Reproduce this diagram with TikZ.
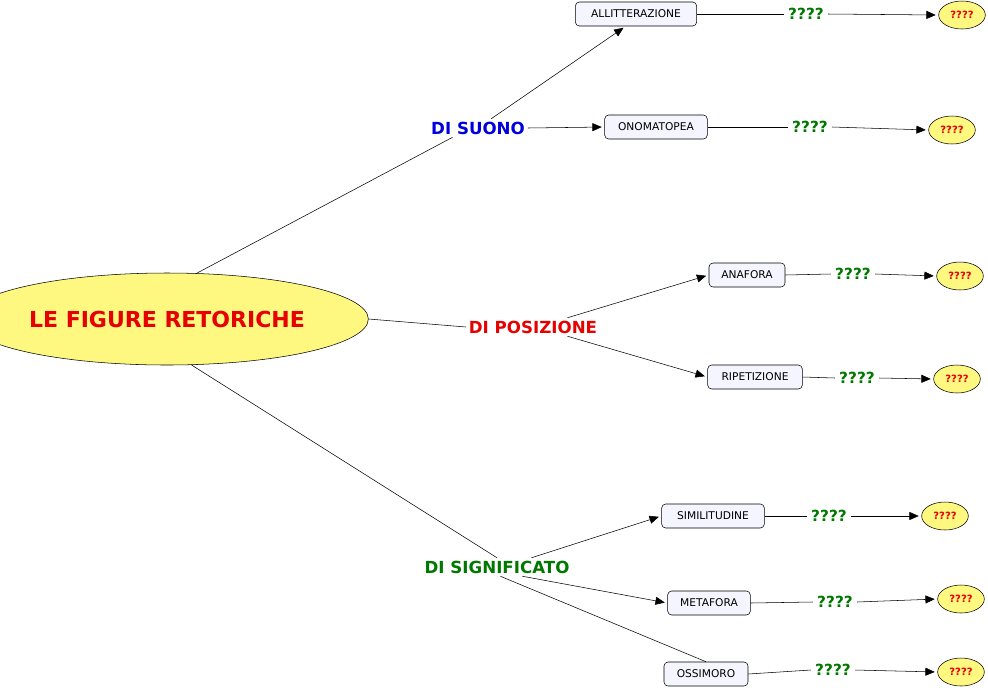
\documentclass[tikz,border=0pt]{standalone}
\usepackage{fontspec}
\setmainfont{DejaVu Sans}
\usetikzlibrary{arrows.meta,shapes.geometric}
\colorlet{ConceptFill}{yellow!50}
\colorlet{BoxFill}{blue!4}
\definecolor{LinkGreen}{RGB}{0,120,0}
\definecolor{LinkBlue}{RGB}{0,0,220}
\definecolor{LinkRed}{RGB}{230,0,0}
\tikzset{
  concept/.style={ellipse, draw, fill=ConceptFill, inner sep=0pt, font=\bfseries\fontsize{7.5}{9}\selectfont, text=LinkRed},
  term/.style={rounded corners=3pt, draw, fill=BoxFill, inner sep=0pt, minimum height=18pt, font=\fontsize{8}{9}\selectfont},
  link/.style={font=\bfseries\fontsize{12.5}{14}\selectfont, inner sep=2pt},
  ask/.style={font=\bfseries\fontsize{11.5}{13}\selectfont, text=LinkGreen, inner sep=3pt},
  line/.style={draw, thin},
  arrow/.style={draw, thin, -{Triangle[length=7pt,width=6pt]}, shorten >=2pt}
}
\begin{document}
\begin{tikzpicture}[x=0.75pt, y=-0.75pt]

  \useasboundingbox (0,0) rectangle (988,690);

  % concetto principale
  \node[ellipse, draw, fill=ConceptFill, minimum width=248pt, minimum height=69pt,
        font=\bfseries\fontsize{16.5}{18}\selectfont, text=LinkRed] (main) at (167,319) {LE FIGURE RETORICHE};

  % parole-legame
  \node[link, text=LinkBlue]  (suono)  at (478,128) {DI SUONO};
  \node[link, text=LinkRed]   (posiz)  at (533,327) {DI POSIZIONE};
  \node[link, text=LinkGreen] (signif) at (497,567) {DI SIGNIFICATO};

  % figure
  \node[term, minimum width=91pt] (Allit)  at (636,14)  {ALLITTERAZIONE};
  \node[term, minimum width=77pt] (Onom)   at (656,127) {ONOMATOPEA};
  \node[term, minimum width=57pt] (Anaf)   at (747,275) {ANAFORA};
  \node[term, minimum width=71pt] (Ripet)  at (755,377) {RIPETIZIONE};
  \node[term, minimum width=77pt] (Simil)  at (713,516) {SIMILITUDINE};
  \node[term, minimum width=62pt] (Metaf)  at (709,603) {METAFORA};
  \node[term, minimum width=63pt] (Ossim)  at (706,674) {OSSIMORO};

  % domande
  \node[ask] (qAllit) at (806,14)  {????};
  \node[ask] (qOnom)  at (810,127) {????};
  \node[ask] (qAnaf)  at (853,274) {????};
  \node[ask] (qRipet) at (857,378) {????};
  \node[ask] (qSimil) at (829,516) {????};
  \node[ask] (qMetaf) at (835,602) {????};
  \node[ask] (qOssim) at (833,670) {????};

  % risposte
  \node[concept, minimum width=35pt, minimum height=21pt] (aAllit) at (962,15)  {????};
  \node[concept, minimum width=35pt, minimum height=21pt] (aOnom)  at (952,130) {????};
  \node[concept, minimum width=35pt, minimum height=21pt] (aAnaf)  at (960,276) {????};
  \node[concept, minimum width=35pt, minimum height=21pt] (aRipet) at (957,379) {????};
  \node[concept, minimum width=35pt, minimum height=21pt] (aSimil) at (945,516) {????};
  \node[concept, minimum width=35pt, minimum height=21pt] (aMetaf) at (961,599) {????};
  \node[concept, minimum width=35pt, minimum height=21pt] (aOssim) at (961,672) {????};

  % collegamenti
  \draw[line] (main.57) -- (suono.200);
  \draw[line] (main.east) -- (posiz.west);
  \draw[line] (main.-62) -- (signif.north);

  \draw[arrow] (suono.35) -- (Allit.230);
  \draw[arrow] (suono.east) -- (Onom.west);
  \draw[arrow] (posiz.15) -- (Anaf.west);
  \draw[arrow] (posiz.-15) -- (Ripet.west);
  \draw[arrow] (signif.15) -- (Simil.west);
  \draw[arrow] (signif.-20) -- (Metaf.west);
  \draw[line]  (signif.-70) -- (Ossim.north);

  \foreach \f in {Allit,Onom,Anaf,Ripet,Simil,Metaf,Ossim} {
    \draw[line] (\f.east) -- (q\f.west);
    \draw[arrow] (q\f.east) -- (a\f.west);
  }

\end{tikzpicture}
\end{document}
